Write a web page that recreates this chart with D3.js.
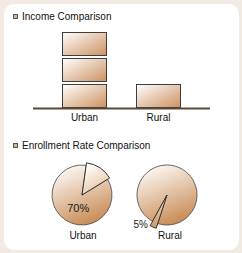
<!DOCTYPE html>
<html><head><meta charset="utf-8">
<script src="https://cdn.jsdelivr.net/npm/d3@7"></script>
<style>html,body{margin:0;padding:0;background:#f2ebe3;}svg{display:block;font-family:Arial,"Liberation Sans",sans-serif;}</style>
</head><body>
<script>
// ---- data ----
const categories = ["Urban", "Rural"];
const incomeUnits = [3, 1];              // stacked income blocks (urban ≈ 3x rural)
const enrollmentLabels = ["70%", "5%"];  // labels printed on the pies
const wedgeShares = [14, 3];             // exploded wedge share (%)
const wedgeStartDeg = [8, 198];          // where the wedge starts (clockwise from 12 o'clock)
const titles = ["Income Comparison", "Enrollment Rate Comparison"];

const W = 242, H = 253;
const svg = d3.select("body").append("svg").attr("width", W).attr("height", H);
const defs = svg.append("defs");

function grad(id, c0, c1, x1, y1, x2, y2) {
  const g = defs.append("linearGradient").attr("id", id)
    .attr("x1", x1).attr("y1", y1).attr("x2", x2).attr("y2", y2);
  g.append("stop").attr("offset", "0%").attr("stop-color", c0);
  g.append("stop").attr("offset", "100%").attr("stop-color", c1);
}
grad("barG", "#ffffff", "#cd9160", "0", "0", "1", "1");
grad("pieG", "#fdf9f5", "#c6874f", "0.3", "0", "0.7", "1");
grad("wedgeG0", "#ffffff", "#e2bd98", "0.3", "0", "0.8", "1");
grad("wedgeG1", "#f0d8bf", "#d19a66", "0.5", "0", "0.3", "1");

svg.append("rect").attr("width", W).attr("height", H).attr("fill", "#f2ebe3");
svg.append("rect").attr("x", 4).attr("y", 4).attr("width", 235).attr("height", 246)
  .attr("rx", 10).attr("fill", "#ffffff");

// titles with icons
const titleY = [20, 149];
titles.forEach((t, i) => {
  svg.append("rect").attr("x", 13.5).attr("y", titleY[i] - 5.5).attr("width", 4).attr("height", 4)
    .attr("fill", "#d7b894").attr("stroke", "#555").attr("stroke-width", 1);
  svg.append("text").attr("x", 22).attr("y", titleY[i]).attr("font-size", 10)
    .attr("fill", "#111").text(t);
});

// ---- bar (pictogram) chart ----
const x = d3.scaleBand().domain(categories).range([33, 210]).paddingInner(0.392).paddingOuter(0.392);
const y = d3.scaleLinear().domain([0, 3]).range([108, 30]);
const gap = 2;

const blocks = [];
categories.forEach((c, i) => { for (let k = 0; k < incomeUnits[i]; k++) blocks.push({ c, k }); });
svg.append("g").selectAll("rect").data(blocks).join("rect")
  .attr("x", d => x(d.c) + 0.5)
  .attr("y", d => y(d.k + 1) + gap + 0.5)
  .attr("width", x.bandwidth() - 1)
  .attr("height", d => y(d.k) - y(d.k + 1) - gap - 1)
  .attr("fill", "url(#barG)").attr("stroke", "#3e3e3e").attr("stroke-width", 1);

svg.append("line").attr("x1", 33).attr("x2", 210).attr("y1", 108.5).attr("y2", 108.5)
  .attr("stroke", "#5e4832").attr("stroke-width", 2);

const xAxis = d3.axisBottom(x).tickSize(0).tickPadding(5);
const ax = svg.append("g").attr("transform", "translate(0,109)").call(xAxis);
ax.select(".domain").remove();
ax.selectAll("text").attr("font-size", 10).attr("fill", "#111").attr("font-family", "Arial,'Liberation Sans',sans-serif");

// ---- pies ----
const px = d3.scalePoint().domain(categories).range([82, 167]);
const pcy = 195, R = 30;
const wedgeR = [32.5, 35];
const arc = d3.arc().innerRadius(0).outerRadius(R);
const rad = Math.PI / 180;

categories.forEach((c, i) => {
  const a0 = wedgeStartDeg[i] * rad;
  const pie = d3.pie().sort(null).startAngle(a0).endAngle(a0 + 2 * Math.PI);
  const slices = pie([wedgeShares[i], 100 - wedgeShares[i]]);
  const g = svg.append("g").attr("transform", `translate(${px(c)},${pcy})`);
  g.append("path").attr("d", arc(slices[1])).attr("fill", "url(#pieG)")
    .attr("stroke", "#555").attr("stroke-width", 0.9);
  g.append("path").attr("d", d3.arc().innerRadius(0).outerRadius(wedgeR[i])(slices[0]))
    .attr("fill", `url(#wedgeG${i})`)
    .attr("stroke", "#333").attr("stroke-width", 1);

  if (i === 0) {
    const c0 = d3.arc().innerRadius(32).outerRadius(0).centroid(slices[1]);
    g.append("text").attr("x", c0[0] + 5).attr("y", c0[1] + 4).attr("text-anchor", "middle")
      .attr("font-size", 11).attr("fill", "#222").text(enrollmentLabels[i]);
  } else {
    const c1 = d3.arc().innerRadius(76).outerRadius(0).centroid(slices[0]);
    g.append("text").attr("x", c1[0] - 4).attr("y", c1[1] - 2).attr("text-anchor", "end")
      .attr("font-size", 10).attr("fill", "#222").text(enrollmentLabels[i]);
  }
  svg.append("text").attr("x", px(c) + (i ? 3 : 1)).attr("y", 239).attr("text-anchor", "middle")
    .attr("font-size", 10).attr("fill", "#111").text(c);
});
</script>
</body></html>
